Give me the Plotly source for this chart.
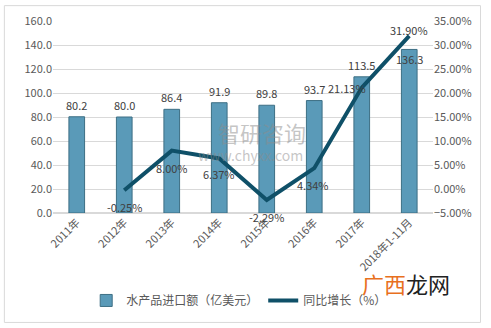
import plotly.graph_objects as go

categories = ["2011年", "2012年", "2013年", "2014年", "2015年", "2016年", "2017年", "2018年1-11月"]
imports = [80.2, 80.0, 86.4, 91.9, 89.8, 93.7, 113.5, 136.3]
growth_x = categories[1:]
growth = [-0.25, 8.00, 6.37, -2.29, 4.34, 21.13, 31.90]

# label offsets (pixels) relative to data points
bar_label_shift = [12, 12, 12, 12, 12, 12, 12, -10]
line_label_shift = [(0, -17), (0, -17), (0, -16), (0, -17), (-1, -17), (-15, 0), (0, 6)]

fig = go.Figure()
fig.add_trace(go.Bar(
    x=categories, y=imports, name="水产品进口额（亿美元）",
    marker=dict(color="#5a9ab8", line=dict(color="#3d6f84", width=1)),
    width=0.33,
))
fig.add_trace(go.Scatter(
    x=growth_x, y=growth, name="同比增长（%）", yaxis="y2",
    mode="lines", line=dict(color="#0f5068", width=4),
))

for c, v, s in zip(categories, imports, bar_label_shift):
    fig.add_annotation(x=c, y=v, xref="x", yref="y", text=f"{v:.1f}", showarrow=False,
                       yshift=s, font=dict(size=11, color="#404040"))
for c, v, (dx, dy) in zip(growth_x, growth, line_label_shift):
    fig.add_annotation(x=c, y=v, xref="x", yref="y2", text=f"{v:.2f}%", showarrow=False,
                       xshift=dx, yshift=dy, font=dict(size=11, color="#404040"))

fig.update_layout(
    width=491, height=328,
    margin=dict(l=53, r=58, t=21, b=115),
    paper_bgcolor="white", plot_bgcolor="white",
    font=dict(family="Noto Sans CJK SC, Open Sans, sans-serif", size=11, color="#595959"),
    xaxis=dict(tickangle=-45, showgrid=False, showline=False, ticks="",
               tickfont=dict(size=11, color="#595959")),
    yaxis=dict(range=[0, 160], dtick=20, tickformat=".1f", showgrid=True,
               gridcolor="#d9d9d9", gridwidth=1, zeroline=True, zerolinecolor="#d9d9d9",
               showline=False, ticks="", tickfont=dict(size=11, color="#595959")),
    yaxis2=dict(range=[-5, 35], dtick=5, tickformat=".2f", ticksuffix="%",
                overlaying="y", side="right", showgrid=False, zeroline=False,
                showline=False, ticks="", tickfont=dict(size=11, color="#595959")),
    legend=dict(orientation="h", x=0.49, xanchor="center", y=-0.38, yanchor="top",
                font=dict(size=12, color="#595959"), itemwidth=30),
    showlegend=True,
)

fig.add_shape(type="rect", xref="paper", yref="paper", x0=-0.128, x1=1.125, y0=-0.57, y1=1.08,
              line=dict(color="#d9d9d9", width=1), fillcolor="rgba(0,0,0,0)", layer="below")

fig.add_annotation(text="智研咨询", xref="paper", yref="paper", x=0.55, y=0.33,
                   showarrow=False, font=dict(size=22, color="rgba(140,140,140,0.5)"))
fig.add_annotation(text="www.chyxx.com", xref="paper", yref="paper", x=0.52, y=0.24,
                   showarrow=False, font=dict(size=14, color="rgba(140,140,140,0.5)"))
fig.add_annotation(text="<span style='color:#e8701e'>广西</span>龙网", xref="paper", yref="paper",
                   x=1.05, y=-0.46, showarrow=False,
                   font=dict(size=22, color="#222222"))

fig.write_html("out.html")
